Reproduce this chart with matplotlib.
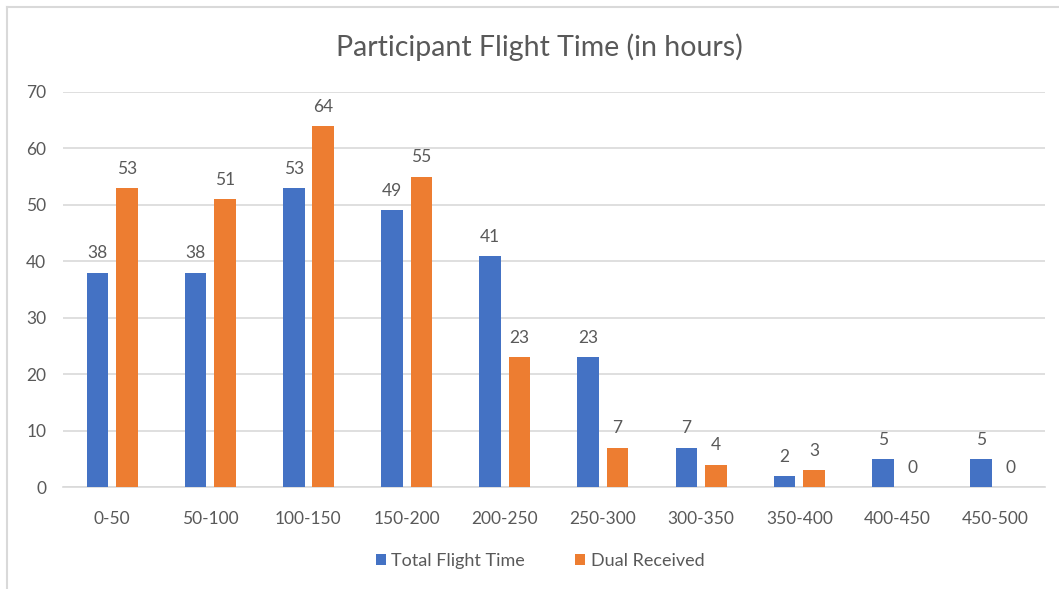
import numpy as np
import matplotlib.pyplot as plt
from matplotlib.lines import Line2D

plt.rcParams["font.family"] = ["Lato", "DejaVu Sans"]

categories = ["0-50", "50-100", "100-150", "150-200", "200-250",
              "250-300", "300-350", "350-400", "400-450", "450-500"]
total_flight_time = [38, 38, 53, 49, 41, 23, 7, 2, 5, 5]
dual_received = [53, 51, 64, 55, 23, 7, 4, 3, 0, 0]

BLUE = "#4472C4"
ORANGE = "#ED7D31"
TEXT = "#595959"
GRID = "#D9D9D9"

fig = plt.figure(figsize=(10.59, 5.89), dpi=100)
ax = fig.add_axes([0.0595, 0.173, 0.927, 0.671])

x = np.arange(len(categories))
width = 0.22
b1 = ax.bar(x - 0.15, total_flight_time, width, color=BLUE, label="Total Flight Time", zorder=3)
b2 = ax.bar(x + 0.15, dual_received, width, color=ORANGE, label="Dual Received", zorder=3)
for bars in (b1, b2):
    ax.bar_label(bars, padding=8, fontsize=12.5, color=TEXT)

ax.set_xlim(-0.5, len(categories) - 0.5)
ax.set_ylim(0, 70)
ax.set_yticks(range(0, 71, 10))
ax.set_xticks(x)
ax.set_xticklabels(categories)
ax.tick_params(axis="both", length=0, labelsize=12.5, labelcolor=TEXT)
ax.tick_params(axis="x", pad=17)
ax.tick_params(axis="y", pad=12)
ax.grid(axis="y", color=GRID, linewidth=1.2, zorder=0)
for side in ("top", "right", "left"):
    ax.spines[side].set_visible(False)
ax.spines["bottom"].set_color(GRID)
ax.spines["bottom"].set_linewidth(1.2)

fig.text(0.509, 0.92, "Participant Flight Time (in hours)", ha="center", va="center",
         fontsize=20.5, color=TEXT)

fig.legend(loc="center", bbox_to_anchor=(0.51, 0.048), ncol=2, frameon=False,
           fontsize=13, labelcolor=TEXT, handlelength=0.55, handleheight=0.55,
           handletextpad=0.3, columnspacing=2.8)

# light frame on the left and top of the chart area
fig.add_artist(Line2D([0.0066, 0.0066], [0.0, 0.988], color=GRID, linewidth=1.5))
fig.add_artist(Line2D([0.0066, 1.0], [0.988, 0.988], color=GRID, linewidth=1.5))

fig.savefig("out.png", dpi=100)
